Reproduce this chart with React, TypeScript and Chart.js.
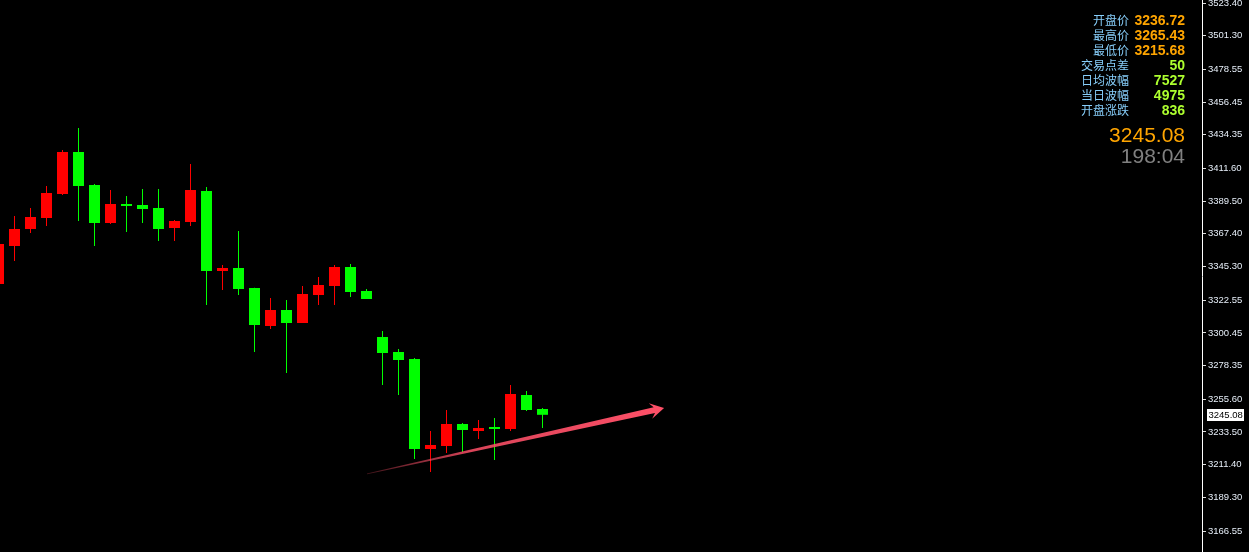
import React, { useEffect, useRef } from 'react';
import { Chart, registerables } from 'chart.js';

Chart.register(...registerables);

// Candle data (index 0 is partly off the left edge)
const OPEN = [3333.49, 3359.17, 3370.66, 3378.09, 3394.32, 3422.70, 3400.40, 3374.72, 3387.56, 3386.88, 3384.85, 3371.34, 3375.39, 3396.34, 3342.27, 3344.30, 3330.79, 3305.10, 3315.92, 3307.13, 3326.05, 3332.14, 3344.98, 3328.76, 3297.67, 3287.53, 3282.80, 3221.97, 3224.00, 3238.87, 3234.14, 3236.85, 3235.49, 3258.47, 3249.01];
const HIGH = [3361.87, 3379.45, 3384.85, 3399.72, 3424.05, 3438.92, 3401.07, 3397.02, 3392.96, 3397.69, 3397.69, 3376.74, 3414.59, 3399.05, 3346.33, 3369.31, 3331.00, 3324.03, 3322.67, 3332.14, 3338.22, 3346.33, 3347.01, 3330.11, 3301.72, 3289.56, 3283.48, 3234.14, 3248.33, 3239.55, 3241.57, 3242.92, 3265.23, 3261.17, 3249.68];
const LOW = [3332.14, 3349.03, 3367.96, 3372.69, 3393.64, 3376.07, 3359.17, 3374.04, 3368.63, 3374.72, 3362.55, 3362.55, 3372.69, 3319.30, 3329.43, 3326.05, 3287.53, 3303.08, 3273.34, 3307.13, 3319.30, 3319.30, 3324.71, 3323.35, 3265.23, 3258.47, 3215.21, 3206.43, 3219.27, 3219.95, 3228.73, 3214.54, 3234.14, 3247.65, 3236.17];
const CLOSE = [3360.52, 3370.66, 3378.77, 3394.99, 3422.70, 3399.72, 3374.72, 3387.56, 3386.20, 3384.18, 3370.66, 3376.07, 3397.02, 3342.27, 3344.30, 3330.11, 3305.78, 3315.92, 3307.13, 3326.73, 3332.81, 3344.98, 3328.08, 3323.35, 3286.85, 3282.12, 3221.97, 3224.68, 3238.87, 3234.82, 3236.17, 3235.49, 3259.15, 3248.33, 3245.08];

const Y_TICKS = [3523.40, 3501.30, 3478.55, 3456.45, 3434.35, 3411.60, 3389.50, 3367.40, 3345.30, 3322.55, 3300.45, 3278.35, 3255.60, 3233.50, 3211.40, 3189.30, 3166.55];
const Y_MIN = 3152.36;
const Y_MAX = 3525.43;
const X_MIN = 0.09375;
const X_MAX = 75.21875;

const PANEL_LABELS = ['开盘价', '最高价', '最低价', '交易点差', '日均波幅', '当日波幅', '开盘涨跌'];
const PANEL_VALUES = ['3236.72', '3265.43', '3215.68', '50', '7527', '4975', '836'];
const LAST_PRICE = 3245.08;
const COUNTDOWN = '198:04';

// Trend arrow, in data units (candle index, price)
const ARROW_START = [23.03, 3205.1];
const ARROW_END = [41.6, 3249.7];

const UP = '#ff0000';
const DOWN = '#00ff00';

const overlayPlugin = {
  id: 'overlay',
  afterDraw(chart: any) {
    const { ctx } = chart;
    const xs = chart.scales.x;
    const ys = chart.scales.y;
    ctx.save();

    // arrow
    const x0 = xs.getPixelForValue(ARROW_START[0]);
    const y0 = ys.getPixelForValue(ARROW_START[1]);
    const x1 = xs.getPixelForValue(ARROW_END[0]);
    const y1 = ys.getPixelForValue(ARROW_END[1]);
    const dx = x1 - x0, dy = y1 - y0;
    const len = Math.hypot(dx, dy);
    const ux = dx / len, uy = dy / len;
    const nx = -uy, ny = ux;
    const headLen = 12, headHalf = 8, shaftEnd = 3, shaftStart = 0.4;
    const bx = x1 - ux * headLen, by = y1 - uy * headLen;
    const grad = ctx.createLinearGradient(x0, y0, x1, y1);
    grad.addColorStop(0, 'rgba(255,80,104,0.25)');
    grad.addColorStop(0.35, 'rgba(255,80,104,0.85)');
    grad.addColorStop(1, '#ff5068');
    ctx.fillStyle = grad;
    ctx.beginPath();
    ctx.moveTo(x0 + nx * shaftStart, y0 + ny * shaftStart);
    ctx.lineTo(bx + nx * shaftEnd + ux * 2, by + ny * shaftEnd + uy * 2);
    ctx.lineTo(bx + nx * headHalf - ux * 2, by + ny * headHalf - uy * 2);
    ctx.lineTo(x1, y1);
    ctx.lineTo(bx - nx * headHalf - ux * 2, by - ny * headHalf - uy * 2);
    ctx.lineTo(bx - nx * shaftEnd + ux * 2, by - ny * shaftEnd + uy * 2);
    ctx.lineTo(x0 - nx * shaftStart, y0 - ny * shaftStart);
    ctx.closePath();
    ctx.fill();

    // info panel
    ctx.textBaseline = 'middle';
    ctx.textAlign = 'right';
    for (let i = 0; i < PANEL_LABELS.length; i++) {
      const yy = 20.5 + i * 15;
      ctx.font = '12px "Noto Sans CJK SC"';
      ctx.fillStyle = '#87cefa';
      ctx.fillText(PANEL_LABELS[i], 1129, yy);
      ctx.font = 'bold 14px "Liberation Sans"';
      ctx.fillStyle = i < 3 ? '#ffa500' : '#adff2f';
      ctx.fillText(PANEL_VALUES[i], 1185, yy + 0.5);
    }
    ctx.font = '21px "Liberation Sans"';
    ctx.fillStyle = '#ffa500';
    ctx.fillText(LAST_PRICE.toFixed(2), 1185, 136);
    ctx.fillStyle = '#808080';
    ctx.fillText(COUNTDOWN, 1185, 157);

    // current price label on the axis
    const py = Math.round(ys.getPixelForValue(LAST_PRICE));
    ctx.fillStyle = '#ffffff';
    ctx.fillRect(1207, py - 6, 37, 12);
    ctx.fillStyle = '#000000';
    ctx.textAlign = 'left';
    ctx.font = '9.5px "Liberation Sans"';
    ctx.fillText(LAST_PRICE.toFixed(2), 1208.5, py + 0.5);

    ctx.restore();
  },
};

export default function App() {
  const ref = useRef<HTMLCanvasElement | null>(null);

  useEffect(() => {
    if (!ref.current) return;
    const colors = OPEN.map((o, i) => (CLOSE[i] >= o ? UP : DOWN));
    const wicks = OPEN.map((_, i) => ({ x: i, y: [LOW[i], HIGH[i]] }));
    const bodies = OPEN.map((o, i) => ({ x: i, y: [o, CLOSE[i]] }));

    const chart = new Chart(ref.current, {
      type: 'bar',
      data: {
        datasets: [
          {
            data: wicks as any,
            backgroundColor: colors,
            barThickness: 1,
            grouped: false,
            inflateAmount: 0,
            borderWidth: 0,
          } as any,
          {
            data: bodies as any,
            backgroundColor: colors,
            barThickness: 11,
            grouped: false,
            inflateAmount: 0,
            borderWidth: 0,
            minBarLength: 2,
          } as any,
        ],
      },
      options: {
        responsive: false,
        animation: false,
        events: [],
        layout: { padding: 0 },
        plugins: { legend: { display: false }, tooltip: { enabled: false } },
        scales: {
          x: {
            type: 'linear',
            min: X_MIN,
            max: X_MAX,
            offset: false,
            display: false,
          },
          y: {
            type: 'linear',
            position: 'right',
            min: Y_MIN,
            max: Y_MAX,
            beginAtZero: false,
            afterBuildTicks: (scale: any) => {
              scale.ticks = Y_TICKS.map((v) => ({ value: v }));
            },
            afterFit: (scale: any) => {
              scale.width = 47;
              scale.paddingTop = 0;
              scale.paddingBottom = 0;
            },
            ticks: {
              autoSkip: false,
              color: '#e6eef8',
              padding: 2,
              font: { family: '"Liberation Sans"', size: 9.5 },
              callback: (v: any) => Number(v).toFixed(2),
            },
            grid: {
              drawOnChartArea: false,
              drawTicks: true,
              tickLength: 4,
              color: '#dddddd',
            },
            border: { display: true, color: '#ffffff', width: 1 },
          },
        },
      } as any,
      plugins: [overlayPlugin],
    });
    return () => chart.destroy();
  }, []);

  return (
    <div style={{ position: 'fixed', left: 0, top: 0, width: 1249, height: 552, background: '#000' }}>
      <canvas ref={ref} width={1249} height={552} style={{ display: 'block', width: 1249, height: 552 }} />
    </div>
  );
}
